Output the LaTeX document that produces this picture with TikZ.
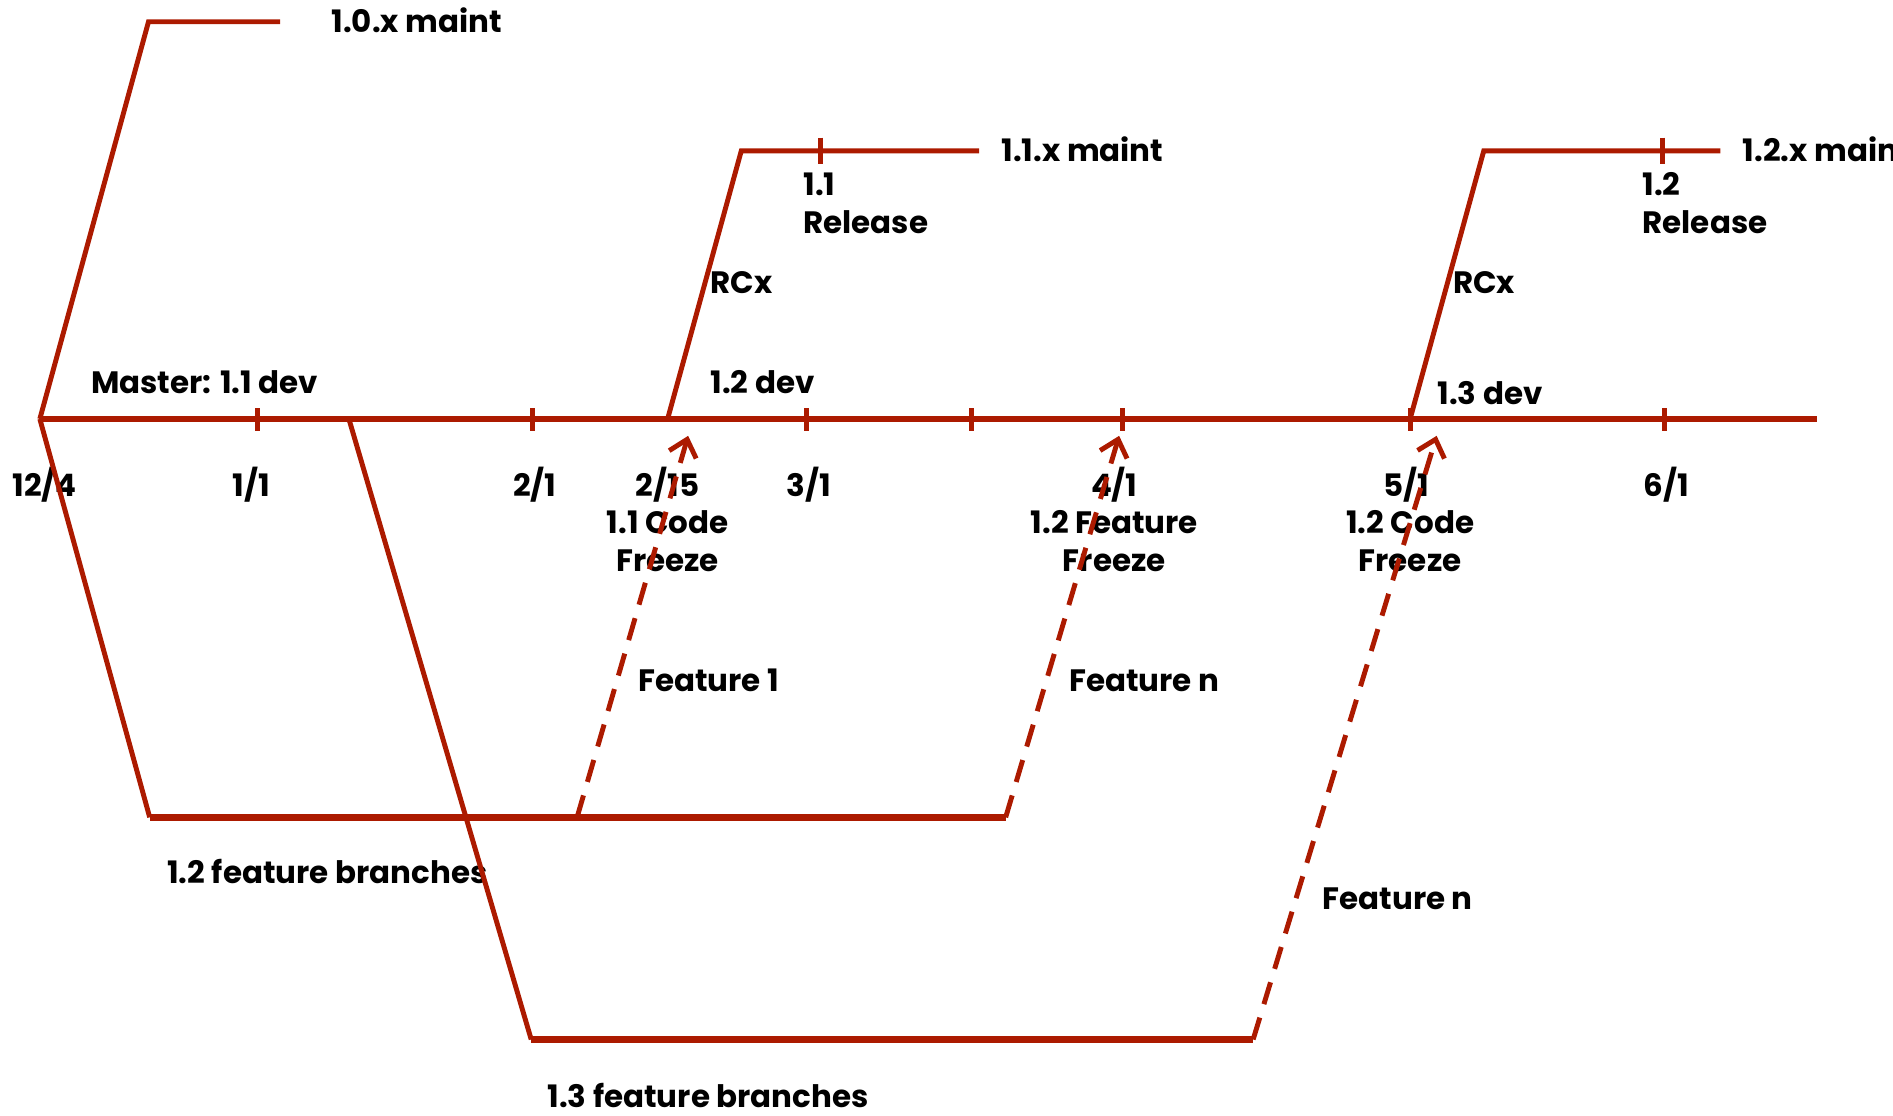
\documentclass[tikz,border=0pt]{standalone}
\usepackage{fontspec}
\setmainfont{Poppins}
\usetikzlibrary{arrows.meta}
\definecolor{branchred}{HTML}{AC1A00}
\begin{document}
\begin{tikzpicture}[x=0.012073cm,y=-0.012073cm,
  lbl/.style={font=\bfseries\fontsize{8.8}{10.6}\selectfont, inner sep=0pt, text=black},
  trunk/.style={draw=branchred, line width=1.6pt},
  branch/.style={draw=branchred, line width=1.4pt, line join=miter},
  fbar/.style={draw=branchred, line width=2pt},
  merge/.style={draw=branchred, line width=1.4pt, dash pattern=on 6.5pt off 4pt,
    -{Straight Barb[length=4.5pt,width=8pt,line width=1.4pt]}},
  tickmark/.style={draw=branchred, line width=1.4pt}]
\useasboundingbox (0,0) rectangle (1568,924);

% ---- labels (two-line nodes sit on the baseline of their last line) ----
\node[lbl, anchor=base west] (l10) at (274,27) {1.0.x maint};
\node[lbl, anchor=base west] (l11) at (829,134) {1.1.x maint};
\node[lbl, anchor=base west] (l12) at (1443,134) {1.2.x maint};
\node[lbl, anchor=base west, align=left] (r11) at (665,193) {1.1\\Release};
\node[lbl, anchor=base west, align=left] (r12) at (1360,193) {1.2\\Release};
\node[lbl, anchor=base west] (rc1) at (588,243) {RCx};
\node[lbl, anchor=base west] (rc2) at (1203,243) {RCx};
\node[lbl, anchor=base west] (dev11) at (75,326) {Master: 1.1 dev};
\node[lbl, anchor=base west] (dev12) at (588,326) {1.2 dev};
\node[lbl, anchor=base west] (dev13) at (1190,335) {1.3 dev};

\foreach \n/\x/\t in {d124/37/12\slash 4, d11/208/1\slash 1, d21/443/2\slash 1,
    d215/553/2\slash 15, d31/670/3\slash 1, d41/923/4\slash 1,
    d51/1165/5\slash 1, d61/1380/6\slash 1}
  \node[lbl, anchor=base] (\n) at (\x,411) {\t};

\node[lbl, anchor=base, align=center] (fz1) at (553,473) {1.1 Code\\Freeze};
\node[lbl, anchor=base, align=center] (fz2) at (923,473) {1.2 Feature\\Freeze};
\node[lbl, anchor=base, align=center] (fz3) at (1168,473) {1.2 Code\\Freeze};

\node[lbl, anchor=base west] (ft1) at (528,573) {Feature 1};
\node[lbl, anchor=base west] (ft2) at (885,573) {Feature n};
\node[lbl, anchor=base west] (ft3) at (1095,753) {Feature n};
\node[lbl, anchor=base west] (fb12) at (138,732) {1.2 feature branches};
\node[lbl, anchor=base west] (fb13) at (453,917) {1.3 feature branches};

% ---- branch points ----
\coordinate (m0) at (33,347);
\coordinate (mEnd) at (1505,347);
\coordinate (a1) at (123,18);
\coordinate (a2) at (232,18);
\coordinate (b0) at (553,347);
\coordinate (b1) at (614,125);
\coordinate (b2) at (811,125);
\coordinate (bt) at (680,125);
\coordinate (c0) at (1168,347);
\coordinate (c1) at (1229,125);
\coordinate (c2) at (1425,125);
\coordinate (ct) at (1377,125);
\coordinate (f1) at (124,677);
\coordinate (f2) at (833,677);
\coordinate (g1) at (478,677);
\coordinate (h1) at (570,361);
\coordinate (h2) at (927,361);
\coordinate (k0) at (289,347);
\coordinate (k1) at (440,861);
\coordinate (k2) at (1038,861);
\coordinate (h3) at (1190,361);

% ---- master line with date ticks ----
\draw[trunk] (m0) -- (mEnd);
\foreach \x in {213,441,668,805,930,1168,1379}
  \draw[tickmark] (\x,338) -- (\x,357);

% ---- maintenance branches ----
\draw[branch] (m0) -- (a1) -- (a2);
\draw[branch] (b0) -- (b1) -- (b2);
\draw[tickmark] (bt) ++(0,-11) -- ++(0,22);
\draw[branch] (c0) -- (c1) -- (c2);
\draw[tickmark] (ct) ++(0,-11) -- ++(0,22);

% ---- feature branches ----
\draw[branch] (m0) -- (f1);
\draw[fbar] (f1) -- (f2);
\draw[branch] (k0) -- (k1);
\draw[fbar] (k1) -- (k2);

% ---- merges back to master ----
\draw[merge] (g1) -- (h1);
\draw[merge] (f2) -- (h2);
\draw[merge] (k2) -- (h3);
\end{tikzpicture}
\end{document}
